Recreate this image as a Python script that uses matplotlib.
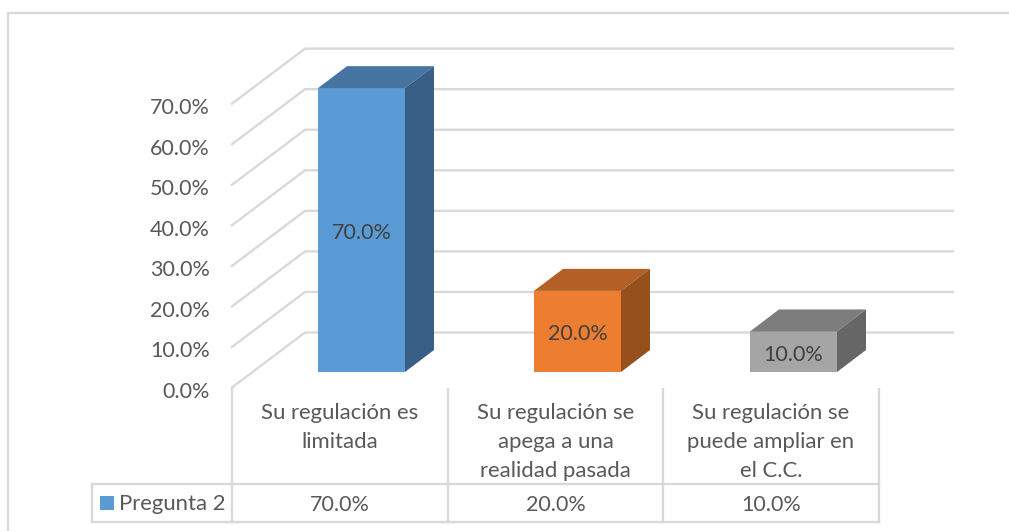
import matplotlib
matplotlib.use("Agg")
import matplotlib.pyplot as plt
from matplotlib.patches import Polygon, Rectangle

plt.rcParams['font.family'] = ['Lato', 'DejaVu Sans']

categories = ["Su regulación es\nlimitada", "Su regulación se\napega a una\nrealidad pasada", "Su regulación se\npuede ampliar en\nel C.C."]
values = [70.0, 20.0, 10.0]
ticks = [0, 10, 20, 30, 40, 50, 60, 70]
series_name = "Pregunta 2"
front = ["#5B9BD5", "#ED7D31", "#A5A5A5"]
top = ["#4675A1", "#B45F25", "#7D7D7D"]
side = ["#385F85", "#95501C", "#666666"]

W, H = 1009, 531
fig = plt.figure(figsize=(W/100, H/100), dpi=100)
ax = fig.add_axes([0, 0, 1, 1])
ax.set_xlim(0, W); ax.set_ylim(H, 0); ax.axis('off')

GRID = "#D9D9D9"; TXT = "#595959"; FS = 15.9; FN = 15.5; LW = 1.7
PX = 4.055
def wall_y(v): return 332.5 - v*PX
def front_y(v): return 387.5 - v*PX
def bar_y(v): return 372 - v*PX

# outer frame
ax.plot([8, 8, 1009], [531, 13, 13], color=GRID, lw=LW)

# gridlines and axis labels
for t in ticks:
    ax.plot([232, 305, 953], [front_y(t), wall_y(t), wall_y(t)], color=GRID, lw=LW, zorder=1)
    ax.text(210, front_y(t)+4.5, f"{t:.1f}%", ha='right', va='center', fontsize=FN, color=TXT)

# bars
dx, dy = 29, 22
for i, v in enumerate(values):
    cx = 361.5 + 216*i
    x0, x1 = cx-43.5, cx+43.5
    yb, yt = 372, bar_y(v)
    ax.add_patch(Rectangle((x0, yt), x1-x0, yb-yt, fc=front[i], ec='none', zorder=3))
    ax.add_patch(Polygon([(x0, yt), (x0+dx, yt-dy), (x1+dx, yt-dy), (x1, yt)], fc=top[i], ec='none', zorder=3))
    ax.add_patch(Polygon([(x1, yt), (x1+dx, yt-dy), (x1+dx, yb-dy), (x1, yb)], fc=side[i], ec='none', zorder=3))
    ax.text(cx, (yt+yb)/2+3, f"{v:.1f}%", ha='center', va='center', fontsize=FN, color="#404040", zorder=4)

# data table
for x in [232, 447.5, 663, 878.5]:
    ax.plot([x, x], [389, 522], color=GRID, lw=LW, zorder=1)
ax.plot([92, 878.5], [484, 484], color=GRID, lw=LW, zorder=1)
ax.plot([92, 878.5], [522, 522], color=GRID, lw=LW, zorder=1)
ax.plot([92, 92], [484, 522], color=GRID, lw=LW, zorder=1)
for i, (c, v) in enumerate(zip(categories, values)):
    cx = 340 + 215.5*i
    for j, line in enumerate(c.split("\n")):
        ax.text(cx, 413 + j*29.2, line, ha='center', va='center', fontsize=FS, color=TXT)
    ax.text(cx, 505, f"{v:.1f}%", ha='center', va='center', fontsize=FN, color=TXT)
ax.add_patch(Rectangle((100, 496), 14, 14, fc=front[0], ec='none'))
ax.text(119, 504, series_name, ha='left', va='center', fontsize=FS, color=TXT)

fig.savefig("out.png", dpi=100)
